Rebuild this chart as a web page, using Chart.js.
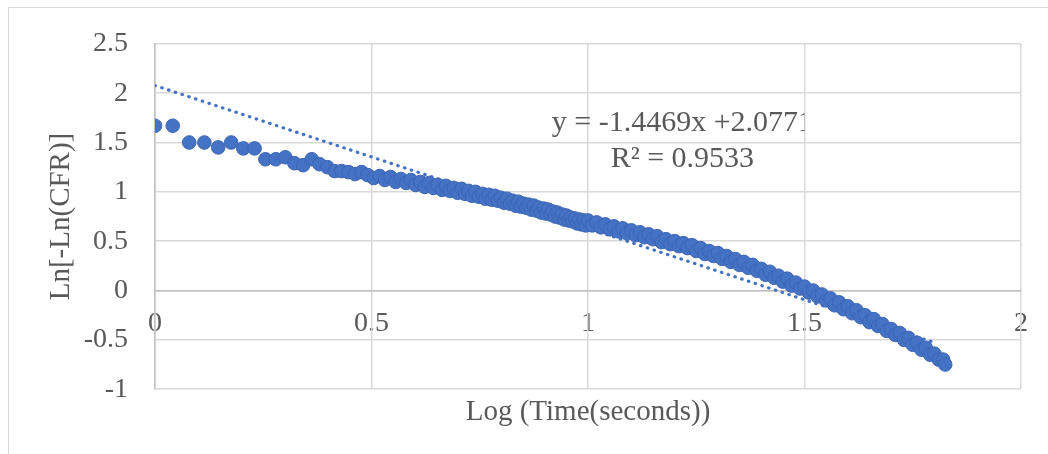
<!DOCTYPE html>
<html>
<head>
<meta charset="utf-8">
<script src="https://cdn.jsdelivr.net/npm/chart.js@4"></script>
<style>
    body { margin: 0; background: #fff; overflow: hidden; }
    #marco { position: absolute; left: 8px; top: 7px; width: 1100px; height: 500px; border: 1px solid #d9d9d9; }
    #caixa { position: absolute; left: 0; top: 0; width: 1048px; height: 454px; }
</style>
</head>
<body>
<div id="marco"></div>
<div id="caixa"><canvas id="graficoWeibull"></canvas></div>
<script>
// Log do tempo (s) e Ln[-Ln(CFR)] de cada leitura
const logTempo = [
    0.000, 0.041, 0.079, 0.114, 0.146, 0.176, 0.204, 0.230, 0.255, 0.279,
    0.301, 0.322, 0.342, 0.362, 0.380, 0.398, 0.415, 0.431, 0.447, 0.462,
    0.477, 0.491, 0.505, 0.519, 0.531, 0.544, 0.556, 0.568, 0.580, 0.591,
    0.602, 0.613, 0.623, 0.633, 0.643, 0.653, 0.663, 0.672, 0.681, 0.690,
    0.699, 0.708, 0.716, 0.724, 0.732, 0.740, 0.748, 0.756, 0.763, 0.771,
    0.778, 0.785, 0.792, 0.799, 0.806, 0.813, 0.820, 0.826, 0.833, 0.839,
    0.845, 0.851, 0.857, 0.863, 0.869, 0.875, 0.881, 0.886, 0.892, 0.898,
    0.903, 0.908, 0.914, 0.919, 0.924, 0.929, 0.934, 0.940, 0.945, 0.950,
    0.955, 0.960, 0.965, 0.970, 0.975, 0.980, 0.985, 0.990, 0.995,
    1.00, 1.01, 1.02, 1.03, 1.04, 1.05, 1.06, 1.07, 1.08, 1.09,
    1.10, 1.11, 1.12, 1.13, 1.14, 1.15, 1.16, 1.17, 1.18, 1.19,
    1.20, 1.21, 1.22, 1.23, 1.24, 1.25, 1.26, 1.27, 1.28, 1.29,
    1.30, 1.31, 1.32, 1.33, 1.34, 1.35, 1.36, 1.37, 1.38, 1.39,
    1.40, 1.41, 1.42, 1.43, 1.44, 1.45, 1.46, 1.47, 1.48, 1.49,
    1.50, 1.51, 1.52, 1.53, 1.54, 1.55, 1.56, 1.57, 1.58, 1.59,
    1.60, 1.61, 1.62, 1.63, 1.64, 1.65, 1.66, 1.67, 1.68, 1.69,
    1.70, 1.71, 1.72, 1.73, 1.74, 1.75, 1.76, 1.77, 1.78, 1.79,
    1.80, 1.81, 1.82, 1.825
];
const lnLnCfr = [
    1.67, 1.67, 1.50, 1.50, 1.45, 1.50, 1.44, 1.44, 1.33, 1.33,
    1.35, 1.29, 1.27, 1.33, 1.28, 1.25, 1.21, 1.21, 1.20, 1.18,
    1.20, 1.17, 1.14, 1.16, 1.12, 1.15, 1.10, 1.13, 1.09, 1.12,
    1.07, 1.10, 1.05, 1.09, 1.04, 1.07, 1.02, 1.06, 1.01, 1.04,
    0.99, 1.03, 0.98, 1.01, 0.96, 1.00, 0.95, 0.98, 0.93, 0.97,
    0.92, 0.96, 0.91, 0.94, 0.89, 0.93, 0.88, 0.91, 0.86, 0.90,
    0.85, 0.88, 0.84, 0.87, 0.82, 0.86, 0.81, 0.84, 0.79, 0.83,
    0.78, 0.82, 0.77, 0.80, 0.75, 0.79, 0.74, 0.77, 0.72, 0.76,
    0.71, 0.74, 0.70, 0.73, 0.68, 0.72, 0.67, 0.71, 0.66,
    0.71, 0.66, 0.69, 0.64, 0.67, 0.62, 0.65, 0.60, 0.63, 0.58,
    0.61, 0.56, 0.59, 0.54, 0.57, 0.52, 0.55, 0.49, 0.52, 0.47,
    0.50, 0.45, 0.48, 0.43, 0.46, 0.40, 0.43, 0.37, 0.40, 0.35,
    0.38, 0.32, 0.35, 0.29, 0.32, 0.26, 0.29, 0.23, 0.26, 0.20,
    0.22, 0.16, 0.19, 0.13, 0.15, 0.09, 0.12, 0.05, 0.08, 0.02,
    0.04, -0.02, 0.00, -0.06, -0.04, -0.10, -0.08, -0.15, -0.12, -0.19,
    -0.16, -0.23, -0.20, -0.27, -0.25, -0.32, -0.29, -0.36, -0.34, -0.41,
    -0.39, -0.45, -0.43, -0.50, -0.48, -0.55, -0.53, -0.60, -0.58, -0.65,
    -0.64, -0.70, -0.70, -0.75
];

// Linha de tendência linear (Excel)
const inclinacao = -1.4469;
const intercepto = 2.0771;
const rQuadrado = 0.9533;
const tendenciaX = [0, 1.806];

// Faixas dos eixos
const eixoX = [0, 2, 0.5];
const eixoY = [-1, 2.5, 0.5];

// Posição do rótulo da equação (em valores dos eixos)
const rotuloX = 1.218;
const rotuloY = [1.617, 1.25];
const rotuloCorte = 1.5;

const fonteSerif = '"Liberation Serif", "Times New Roman", serif';
const corTexto = '#595959';
const azul = '#4472c4';

const pontos = logTempo.map((x, i) => ({ x: x, y: lnLnCfr[i] }));
const tendencia = tendenciaX.map(x => ({ x: x, y: inclinacao * x + intercepto }));

// Escreve a equação e o R² da tendência, cortando no gridline de 1.5
const rotuloTendencia = {
    id: 'rotuloTendencia',
    afterDatasetsDraw(chart) {
        const { ctx, chartArea, scales } = chart;
        const x = scales.x.getPixelForValue(rotuloX);
        const corte = scales.x.getPixelForValue(rotuloCorte);
        ctx.save();
        ctx.beginPath();
        ctx.rect(chartArea.left, chartArea.top, corte - chartArea.left, chartArea.bottom - chartArea.top);
        ctx.clip();
        ctx.font = '30px ' + fonteSerif;
        ctx.fillStyle = corTexto;
        ctx.textAlign = 'center';
        ctx.textBaseline = 'alphabetic';
        ctx.fillText('y = ' + inclinacao + 'x +' + intercepto, x, scales.y.getPixelForValue(rotuloY[0]));
        ctx.fillText('R² = ' + rQuadrado, x, scales.y.getPixelForValue(rotuloY[1]));
        ctx.restore();
    }
};

const config = {
    type: 'scatter',
    data: {
        datasets: [{
            label: 'Ln[-Ln(CFR)]',
            data: pontos,
            backgroundColor: azul,
            borderColor: '#3d65b3',
            borderWidth: 1,
            pointRadius: 6.8,
            pointHoverRadius: 6.8,
            order: 0
        }, {
            type: 'line',
            label: 'Linear',
            data: tendencia,
            borderColor: azul,
            borderWidth: 3.2,
            borderDash: [0.5, 6.6],
            borderCapStyle: 'round',
            pointRadius: 0,
            fill: false,
            order: 1
        }]
    },
    options: {
        responsive: true,
        maintainAspectRatio: false,
        animation: false,
        layout: { padding: { top: 36, right: 27, bottom: 24, left: 0 } },
        plugins: {
            legend: { display: false },
            tooltip: { enabled: false },
            title: {
                display: true,
                position: 'bottom',
                fullSize: false,
                text: 'Log (Time(seconds))',
                color: corTexto,
                font: { family: fonteSerif, size: 29, weight: 'normal', lineHeight: 1.2 },
                padding: { top: 6, bottom: 0 }
            }
        },
        scales: {
            x: {
                type: 'linear',
                position: { y: 0 },
                min: eixoX[0],
                max: eixoX[1],
                ticks: {
                    stepSize: eixoX[2],
                    color: corTexto,
                    font: { family: fonteSerif, size: 28 },
                    padding: 16,
                    maxRotation: 0,
                    z: -2,
                    callback: (valor) => String(valor)
                },
                grid: { color: '#d9d9d9', lineWidth: 1.5, drawTicks: false },
                border: { color: '#bfbfbf', width: 1.5 }
            },
            y: {
                type: 'linear',
                position: 'left',
                min: eixoY[0],
                max: eixoY[1],
                afterFit: (escala) => { escala.width = 155; },
                ticks: {
                    stepSize: eixoY[2],
                    color: corTexto,
                    font: { family: fonteSerif, size: 28 },
                    padding: 27,
                    callback: (valor) => String(valor)
                },
                grid: { color: '#d9d9d9', lineWidth: 1.5, drawTicks: false },
                border: { color: '#bfbfbf', width: 1.5 },
                title: {
                    display: true,
                    text: 'Ln[-Ln(CFR)]',
                    color: corTexto,
                    font: { family: fonteSerif, size: 29, lineHeight: 1.2 },
                    padding: { top: 44, bottom: 0 }
                }
            }
        }
    },
    plugins: [rotuloTendencia]
};

const ctx = document.getElementById('graficoWeibull').getContext('2d');
new Chart(ctx, config);
</script>
</body>
</html>
